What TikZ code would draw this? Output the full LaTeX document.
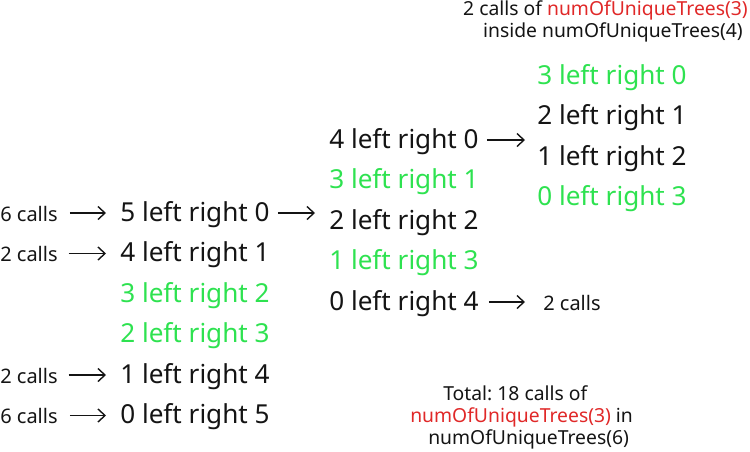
\documentclass[tikz,border=0pt]{standalone}
\usepackage{fontspec}
\setmainfont{Noto Sans}
\usetikzlibrary{arrows.meta}
\definecolor{grn}{RGB}{46,226,80}
\definecolor{rd}{RGB}{224,40,40}
\definecolor{ink}{RGB}{20,20,20}
\frenchspacing
\begin{document}
\begin{tikzpicture}[x=0.75pt,y=-0.75pt,
  big/.style={anchor=base west,inner sep=0pt,text=ink,font=\fontsize{19.6pt}{23pt}\selectfont,text height=12pt,text depth=0pt},
  small/.style={anchor=base west,inner sep=0pt,text=ink,font=\fontsize{15pt}{18pt}\selectfont,text height=12pt,text depth=0pt},
  note/.style={inner sep=0pt,text=ink,font=\fontsize{14.5pt}{17pt}\selectfont},
  hl/.style={text=grn},
  arr/.style={-{Straight Barb[length=5.25pt,width=9.75pt]},line width=1.05pt,draw=ink}]
\useasboundingbox (0,0) rectangle (750,451);
% left column
\node[small] (c1) at (0,221) {6 calls};
\node[small] (c2) at (0,261.5) {2 calls};
\node[small] (c5) at (0,383) {2 calls};
\node[small] (c6) at (0,423.5) {6 calls};
\node[big] (r1) at (120,221) {5 left right 0};
\node[big] (r2) at (120,261.5) {4 left right 1};
\node[big,hl] (r3) at (120,302) {3 left right 2};
\node[big,hl] (r4) at (120,342.5) {2 left right 3};
\node[big] (r5) at (120,383) {1 left right 4};
\node[big] (r6) at (120,423.5) {0 left right 5};
% middle column
\node[big] (m1) at (329,148) {4 left right 0};
\node[big,hl] (m2) at (329,188.5) {3 left right 1};
\node[big] (m3) at (329,229) {2 left right 2};
\node[big,hl] (m4) at (329,269.5) {1 left right 3};
\node[big] (m5) at (329,310) {0 left right 4};
\node[small] (mc) at (543,310) {2 calls};
% right column
\node[big,hl] (t1) at (537,84) {3 left right 0};
\node[big] (t2) at (537,124.5) {2 left right 1};
\node[big] (t3) at (537,165) {1 left right 2};
\node[big,hl] (t4) at (537,205.5) {0 left right 3};
% notes
\node[note,anchor=base east] (n1) at (748,15) {2 calls of \textcolor{rd}{numOfUniqueTrees(3)}};
\node[note,anchor=base east] (n2) at (743,37) {inside numOfUniqueTrees(4)};
\node[note,anchor=base west] (b1) at (443,400) {Total: 18 calls of};
\node[note,anchor=base west] (b2) at (410,422) {\textcolor{rd}{numOfUniqueTrees(3)} in};
\node[note,anchor=base west] (b3) at (428,444) {numOfUniqueTrees(6)};
% connectors
\coordinate (e1) at (315,213);
\coordinate (e2) at (525,140);
\draw[arr,shorten <=9pt,shorten >=10.5pt] (c1.east) -- (r1.west);
\draw[arr,shorten <=8pt,shorten >=10.5pt] (c2.east) -- (r2.west);
\draw[arr,shorten <=8pt,shorten >=10.5pt] (c5.east) -- (r5.west);
\draw[arr,shorten <=9pt,shorten >=10.5pt] (c6.east) -- (r6.west);
\draw[arr,shorten <=6pt] (r1.east) -- (e1);
\draw[arr,shorten <=6pt] (m1.east) -- (e2);
\draw[arr,shorten <=7.5pt,shorten >=13.5pt] (m5.east) -- (mc.west);
\end{tikzpicture}
\end{document}
